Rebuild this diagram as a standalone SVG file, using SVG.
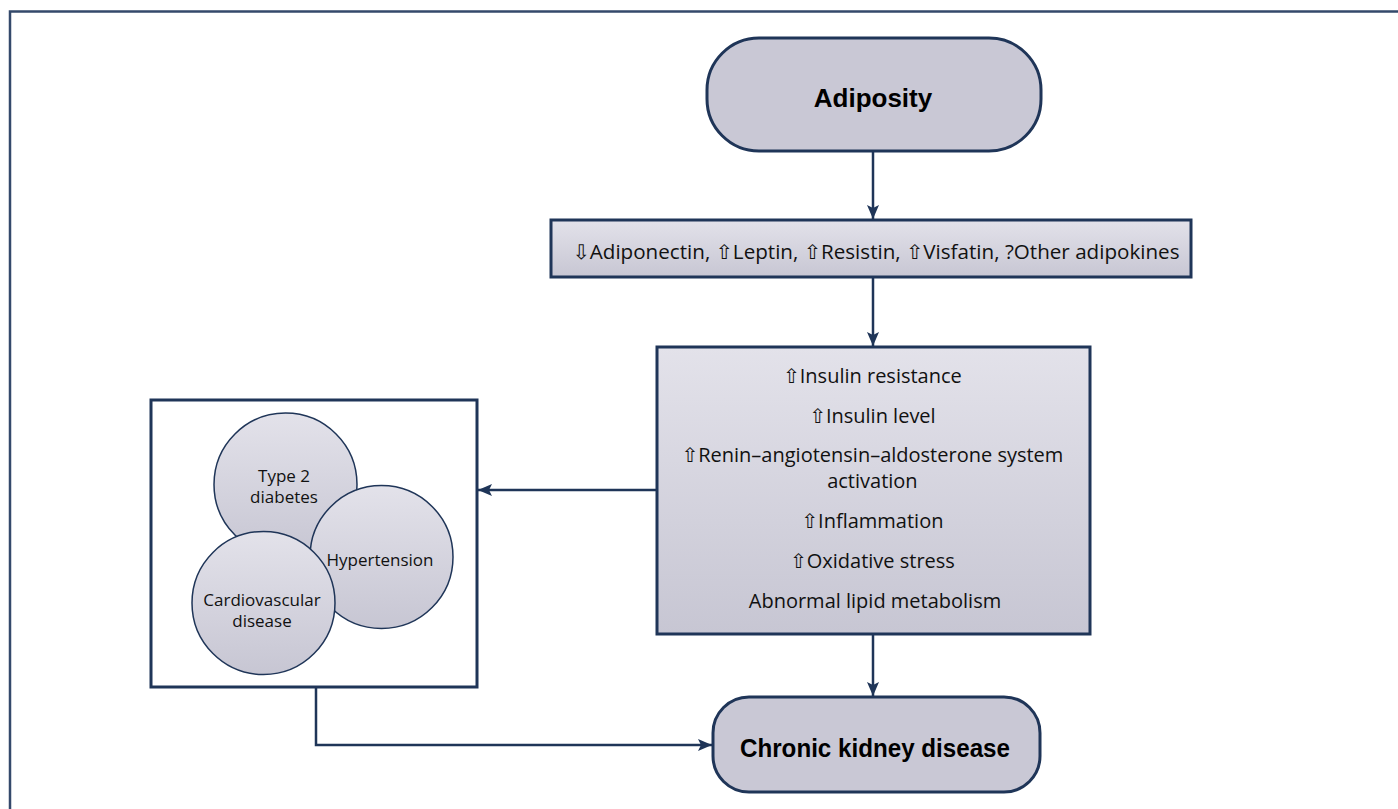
<svg xmlns="http://www.w3.org/2000/svg" width="1398" height="809" viewBox="0 0 1398 809">
<defs>
<linearGradient id="g" x1="0" y1="0" x2="0" y2="1">
<stop offset="0" stop-color="#e3e2ea"/>
<stop offset="1" stop-color="#c7c6d3"/>
</linearGradient>
<marker id="ah" markerWidth="14" markerHeight="12" refX="14" refY="6" orient="auto" markerUnits="userSpaceOnUse">
<path d="M0,0 L14,6 L0,12 L3,6 Z" fill="#1f3558"/>
</marker>
<style>
.frame{stroke:#34496b;stroke-width:2.5;fill:none}
.term{fill:#c9c8d5;stroke:#1f3558;stroke-width:3}
.box{fill:url(#g);stroke:#1f3558;stroke-width:3}
.circ{fill:url(#g);stroke:#1f3558;stroke-width:1.5}
.wbox{fill:#ffffff;stroke:#1f3558;stroke-width:3}
.conn{stroke:#1f3558;stroke-width:2.5;fill:none;marker-end:url(#ah)}
.t{font-family:"Open Sans","DejaVu Sans",sans-serif;fill:#111;text-anchor:middle}
.tb{font-family:"Liberation Sans",Arial,sans-serif;font-weight:bold;fill:#000;text-anchor:middle}
.ar{font-family:"DejaVu Sans",sans-serif;fill:#111}
</style>
</defs>
<path class="frame" d="M10,809 L10,11.5 L1398,11.5"/>
<g id="connectors">
<line class="conn" x1="873" y1="151" x2="873" y2="219"/>
<line class="conn" x1="873" y1="278" x2="873" y2="346"/>
<line class="conn" x1="873" y1="635" x2="873" y2="696"/>
<line class="conn" x1="657" y1="490" x2="478" y2="490"/>
<polyline class="conn" points="316,687 316,745 712,745"/>
</g>
<g id="adiposity">
<rect class="term" x="707" y="38" width="334" height="113" rx="52" ry="52"/>
<text class="tb" x="873" y="107" font-size="26">Adiposity</text>
</g>
<g id="adipokines">
<rect class="box" x="551" y="220" width="640" height="57"/>
<text class="t" x="876" y="259" font-size="20" textLength="607" lengthAdjust="spacingAndGlyphs"><tspan class="ar">⇩</tspan>Adiponectin, <tspan class="ar">⇧</tspan>Leptin, <tspan class="ar">⇧</tspan>Resistin, <tspan class="ar">⇧</tspan>Visfatin, ?Other adipokines</text>
</g>
<g id="mechanisms">
<rect class="box" x="657" y="347" width="433" height="287"/>
<text class="t" font-size="20">
<tspan x="875" y="383"><tspan class="ar">⇧</tspan>Insulin resistance</tspan>
<tspan x="875" y="423"><tspan class="ar">⇧</tspan>Insulin level</tspan>
<tspan x="875" y="462"><tspan class="ar">⇧</tspan>Renin–angiotensin–aldosterone system</tspan>
<tspan x="875" y="488">activation</tspan>
<tspan x="875" y="528"><tspan class="ar">⇧</tspan>Inflammation</tspan>
<tspan x="875" y="568"><tspan class="ar">⇧</tspan>Oxidative stress</tspan>
<tspan x="875" y="608">Abnormal lipid metabolism</tspan>
</text>
</g>
<g id="comorbidities">
<rect class="wbox" x="151" y="400" width="326" height="287"/>
<g id="diabetes">
<circle class="circ" cx="285.5" cy="484.5" r="71.5"/>
<text class="t" font-size="17"><tspan x="284" y="482">Type 2</tspan><tspan x="284" y="503">diabetes</tspan></text>
</g>
<g id="hypertension">
<circle class="circ" cx="381.5" cy="557" r="71.5"/>
<text class="t" x="380" y="566" font-size="17">Hypertension</text>
</g>
<g id="cardiovascular">
<circle class="circ" cx="263.5" cy="603" r="71.5"/>
<text class="t" font-size="17"><tspan x="262" y="606">Cardiovascular</tspan><tspan x="262" y="627">disease</tspan></text>
</g>
</g>
<g id="ckd">
<rect class="term" x="713" y="697" width="327" height="95" rx="36" ry="36"/>
<text class="tb" x="875" y="757" font-size="26" textLength="270" lengthAdjust="spacingAndGlyphs">Chronic kidney disease</text>
</g>
</svg>
